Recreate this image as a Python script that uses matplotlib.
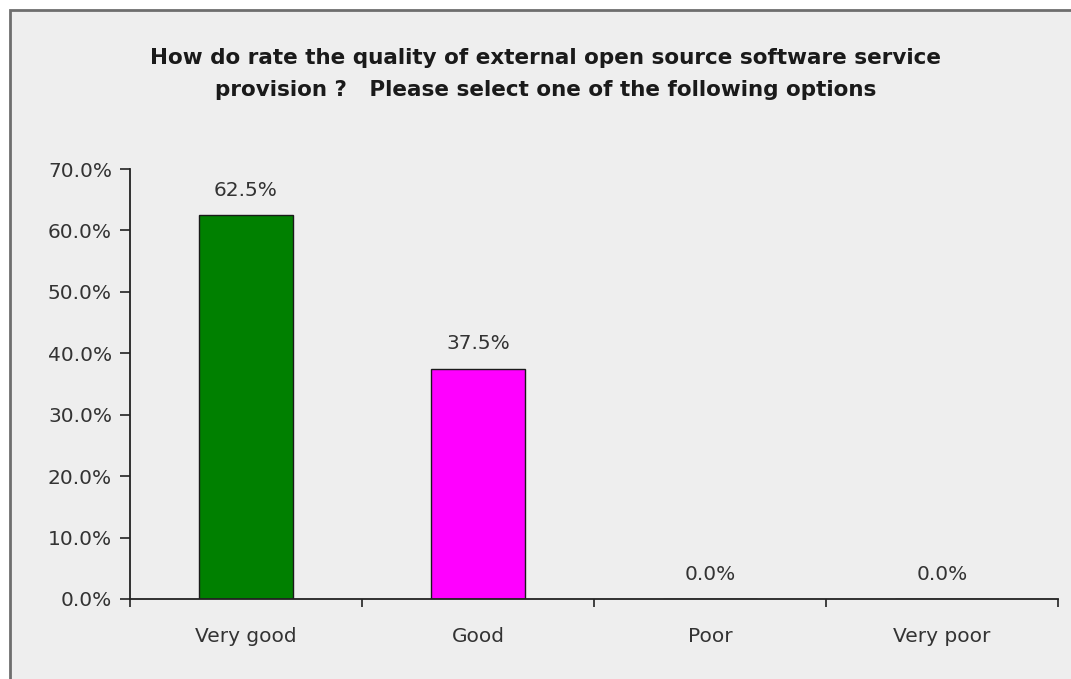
import matplotlib

matplotlib.use("Agg")
import matplotlib.pyplot as plt
from matplotlib.patches import Rectangle
from matplotlib.ticker import FixedLocator, PercentFormatter

categories = ["Very good", "Good", "Poor", "Very poor"]
shares = [62.5, 37.5, 0.0, 0.0]
bar_colors = ["#008000", "#FF00FF", "#808080", "#808080"]
title = ("How do rate the quality of external open source software service\n"
         "provision ?   Please select one of the following options")

plt.rcParams["font.family"] = ["DejaVu Sans"]

fig = plt.figure(figsize=(10.71, 6.79), dpi=100, facecolor="white")

# chart area frame, cut off at right and bottom like the source screenshot
fig.patches.append(Rectangle((10 / 1071, -0.05), 1.2, 1 - 10 / 679 + 0.05,
                             transform=fig.transFigure, facecolor="#EEEEEE",
                             edgecolor="#6E6E6E", linewidth=2.0, zorder=-1))

ax = fig.add_axes([130 / 1071, 1 - 599 / 679, 928 / 1071, 430 / 679])
ax.set_facecolor("none")

xs = list(range(len(categories)))
bars = ax.bar(xs, shares, width=0.405, color=bar_colors,
              edgecolor="#1A1A1A", linewidth=1.0, zorder=2)
for x, value in zip(xs, shares):
    ax.annotate(f"{value:.1f}%", (x, value), xytext=(0, 11), textcoords="offset points",
                ha="center", va="bottom", fontsize=14.5, color="#333333")

ax.set_xlim(-0.5, 3.5)
ax.set_ylim(0, 70)
ax.set_yticks(range(0, 71, 10))
ax.yaxis.set_major_formatter(PercentFormatter(decimals=1))

ax.xaxis.set_major_locator(FixedLocator([-0.5, 0.5, 1.5, 2.5, 3.5]))
ax.xaxis.set_minor_locator(FixedLocator(xs))
ax.set_xticklabels([], minor=False)
ax.set_xticklabels(categories, minor=True)
ax.tick_params(axis="x", which="major", direction="out", length=6, width=1.2, color="#222222")
ax.tick_params(axis="x", which="minor", length=0, pad=20, labelsize=14.5, labelcolor="#333333")
ax.tick_params(axis="y", direction="out", length=7, width=1.2, color="#222222",
               labelsize=14.5, labelcolor="#333333", pad=6)

for side in ("top", "right"):
    ax.spines[side].set_visible(False)
for side in ("left", "bottom"):
    ax.spines[side].set_linewidth(1.3)
    ax.spines[side].set_color("#222222")

fig.text(546 / 1071, 1 - 74 / 679, title, ha="center", va="center",
         fontsize=15.5, fontweight="bold", color="#1A1A1A", linespacing=1.75)

fig.savefig("out.png", dpi=100, facecolor="white")
